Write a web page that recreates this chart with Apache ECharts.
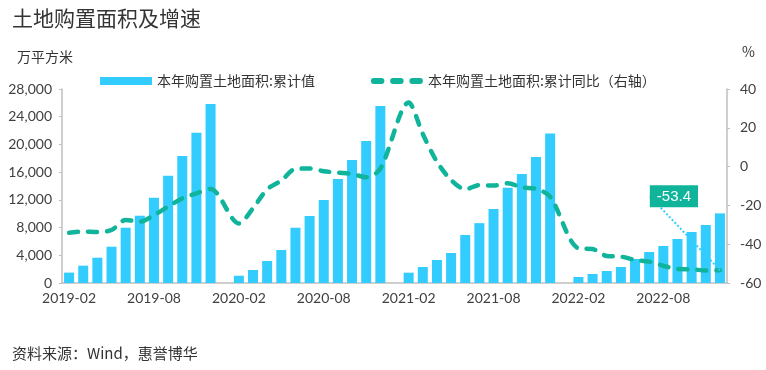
<!DOCTYPE html>
<html>
<head>
<meta charset="utf-8">
<script src="https://cdn.jsdelivr.net/npm/echarts@6/dist/echarts.min.js"></script>
<style>html,body{margin:0;padding:0;background:#fff;}#c{width:766px;height:370px;}</style>
</head>
<body>
<div id="c"></div>
<script>
const categories = [
  '2019-02','2019-03','2019-04','2019-05','2019-06','2019-07','2019-08','2019-09','2019-10','2019-11','2019-12',
  '2020-01','2020-02','2020-03','2020-04','2020-05','2020-06','2020-07','2020-08','2020-09','2020-10','2020-11','2020-12',
  '2021-01','2021-02','2021-03','2021-04','2021-05','2021-06','2021-07','2021-08','2021-09','2021-10','2021-11','2021-12',
  '2022-01','2022-02','2022-03','2022-04','2022-05','2022-06','2022-07','2022-08','2022-09','2022-10','2022-11','2022-12'
];
const areaCum = [
  1500, 2500, 3650, 5240, 7980, 9710, 12310, 15480, 18330, 21690, 25830,
  null, 1050, 1880, 3180, 4760, 7980, 9670, 11980, 15010, 17750, 20490, 25540,
  null, 1490, 2310, 3320, 4330, 6930, 8640, 10680, 13750, 15730, 18180, 21590,
  null, 870, 1300, 1730, 2310, 3460, 4470, 5340, 6350, 7360, 8370, 10050
];
const yoyCum = [
  -34.1, -33.5, -33.7, -32.7, -27.5, -28.4, -25.0, -20.6, -16.4, -13.8, -11.5,
  null, -29.3, -21.5, -11.7, -7.2, -1.2, -1.0, -2.4, -3.1, -3.8, -5.5, -1.1,
  null, 33.0, 16.8, 2.5, -6.9, -11.7, -9.5, -9.8, -8.6, -10.7, -11.5, -15.5,
  null, -42.1, -42.5, -46.1, -46.4, -48.1, -49.0, -51.1, -52.8, -52.9, -53.6, -53.4
];
const seriesNames = ['本年购置土地面积:累计值', '本年购置土地面积:累计同比（右轴）'];
const leftTicks = {min: 0, max: 28000, interval: 4000};
const rightTicks = {min: -60, max: 40, interval: 20};

const BAR = '#33ccff', LINE = '#10b49b', TXT = '#404040';
const FONT = 'Lato, "Noto Sans CJK SC", sans-serif';
const CJK = '"Noto Sans CJK SC", Lato, sans-serif';
const lastIdx = yoyCum.length - 1;

const lineData = yoyCum.map((v, i) => {
  if (i === lastIdx) {
    return {
      value: v,
      label: {
        show: true, position: 'top', formatter: '{c}',
        color: '#fff', backgroundColor: LINE, padding: [4, 7, 3, 7],
        fontSize: 15, fontFamily: '"Liberation Sans", Arial, sans-serif'
      }
    };
  }
  return v;
});

const dashIcon = 'path://M3,0h8a3,3 0 0 1 0,6h-8a3,3 0 0 1 0,-6z M23,0h8a3,3 0 0 1 0,6h-8a3,3 0 0 1 0,-6z M43,0h8a3,3 0 0 1 0,6h-8a3,3 0 0 1 0,-6z';

const chart = echarts.init(document.getElementById('c'), null, {renderer: 'canvas'});
chart.setOption({
  animation: false,
  backgroundColor: '#fff',
  textStyle: {fontFamily: FONT},
  title: [
    {text: '土地购置面积及增速', left: 7, top: 3, textStyle: {fontFamily: CJK, fontSize: 21, fontWeight: 'normal', color: '#333'}},
    {text: '万平方米', left: 12, top: 45, textStyle: {fontFamily: CJK, fontSize: 14, fontWeight: 'normal', color: '#333'}},
    {text: '%', left: 737, top: 40, textStyle: {fontFamily: CJK, fontSize: 14, fontWeight: 'normal', color: '#333'}},
    {text: '资料来源：Wind，惠誉博华', left: 7, top: 341, textStyle: {fontFamily: CJK, fontSize: 15, fontWeight: 'normal', color: '#333'}}
  ],
  legend: {
    left: 95, top: 69, itemWidth: 52, itemHeight: 8, itemGap: 56,
    textStyle: {fontFamily: CJK, fontSize: 14, color: '#333'},
    data: [
      {name: seriesNames[0], icon: 'rect'},
      {name: seriesNames[1], icon: dashIcon}
    ]
  },
  grid: {left: 62, right: 39, top: 89, bottom: 87},
  xAxis: {
    type: 'category', data: categories, boundaryGap: true,
    axisLine: {lineStyle: {color: '#bfbfbf', width: 1.5}},
    axisTick: {show: false},
    axisLabel: {interval: 5, color: TXT, fontSize: 14, margin: 8, fontFamily: 'Lato'}
  },
  yAxis: [
    {
      type: 'value', min: leftTicks.min, max: leftTicks.max, interval: leftTicks.interval,
      axisLine: {show: true, lineStyle: {color: '#bfbfbf', width: 1.5}},
      axisTick: {show: true, length: 3, lineStyle: {color: '#bfbfbf'}},
      splitLine: {show: false},
      axisLabel: {color: TXT, fontSize: 14, margin: 10, fontFamily: 'Lato',
        formatter: v => v.toLocaleString('en-US')}
    },
    {
      type: 'value', min: rightTicks.min, max: rightTicks.max, interval: rightTicks.interval,
      axisLine: {show: true, lineStyle: {color: '#bfbfbf', width: 1.5}},
      axisTick: {show: true, length: 3, lineStyle: {color: '#bfbfbf'}},
      splitLine: {show: false},
      axisLabel: {color: TXT, fontSize: 14, margin: 13, fontFamily: 'Lato'}
    }
  ],
  series: [
    {
      name: seriesNames[0], type: 'bar', data: areaCum, barWidth: 10,
      itemStyle: {color: BAR}, yAxisIndex: 0
    },
    {
      name: seriesNames[1], type: 'line', data: lineData, yAxisIndex: 1,
      connectNulls: true, smooth: 0.3, symbol: 'circle', symbolSize: 0, showSymbol: true,
      itemStyle: {color: LINE},
      lineStyle: {color: LINE, width: 4.5, type: [9, 10], cap: 'round'},
      labelLayout: function (p) {
        return p.dataIndex === lastIdx ? {dx: -46, dy: -58} : {};
      },
      labelLine: {show: true, length2: 8, lineStyle: {color: BAR, type: 'dotted', width: 2}},
      z: 3
    }
  ]
});
</script>
</body>
</html>
